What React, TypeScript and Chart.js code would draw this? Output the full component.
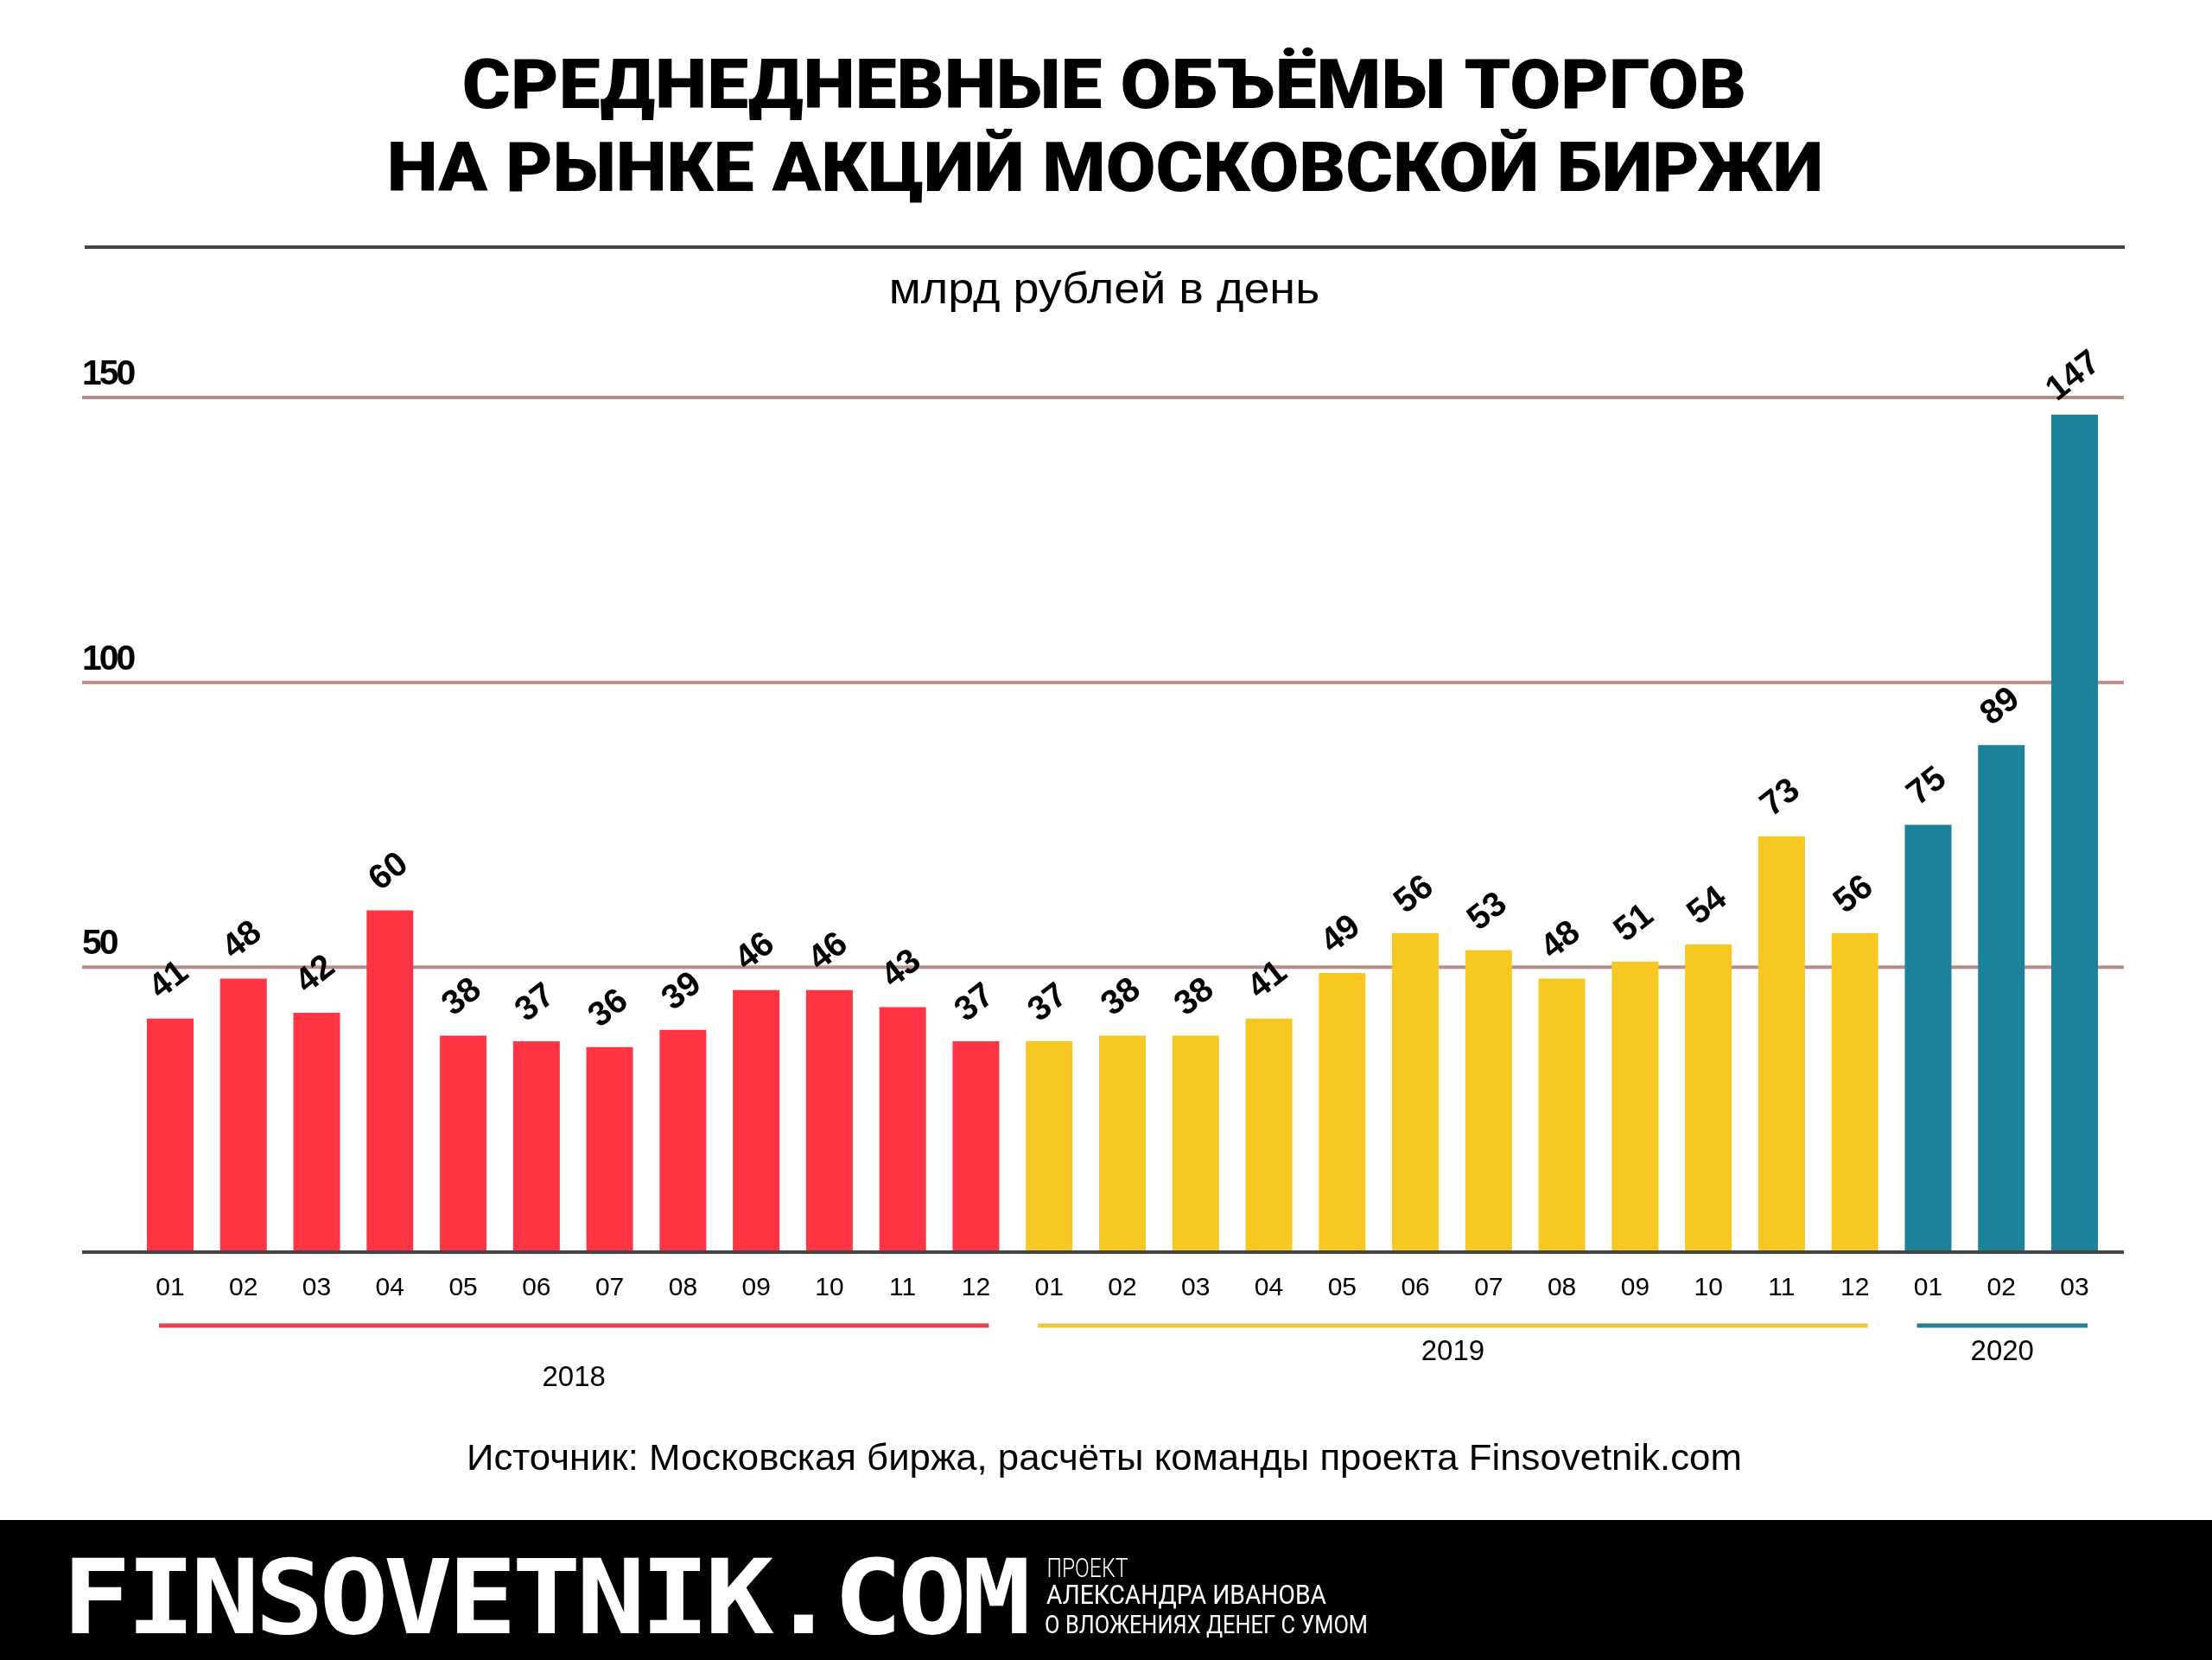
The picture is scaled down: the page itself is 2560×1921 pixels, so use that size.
import { useEffect, useRef } from "react";
import { Chart, registerables } from "chart.js";

Chart.register(...registerables);

const months = [
	"01", "02", "03", "04", "05", "06", "07", "08", "09", "10", "11", "12",
	"01", "02", "03", "04", "05", "06", "07", "08", "09", "10", "11", "12",
	"01", "02", "03",
];
const volumes = [
	41, 48, 42, 60, 38, 37, 36, 39, 46, 46, 43, 37,
	37, 38, 38, 41, 49, 56, 53, 48, 51, 54, 73, 56,
	75, 89, 147,
];
const yearNames = ["2018", "2019", "2020"];
const yearMonthCounts = [12, 12, 3];
const yearBarColors = ["#FF3545", "#F8C822", "#1C8299"];
const yearLineColors = ["#E2434F", "#EDC83E", "#2B8097"];
const yearLabelY = [1595, 1565, 1565];

const titleLines = ["СРЕДНЕДНЕВНЫЕ ОБЪЁМЫ ТОРГОВ", "НА РЫНКЕ АКЦИЙ МОСКОВСКОЙ БИРЖИ"];
const unitText = "млрд рублей в день";
const sourceText = "Источник: Московская биржа, расчёты команды проекта Finsovetnik.com";
const brandText = "FINSOVETNIK.COM";
const brandLines = ["ПРОЕКТ", "АЛЕКСАНДРА ИВАНОВА", "О ВЛОЖЕНИЯХ ДЕНЕГ С УМОМ"];

const SANS = '"Liberation Sans", Arial, sans-serif';
const LEFT = 95;
const RIGHT = 2458;

// squeeze or stretch a string so its ink runs from x0 to x1
function fitText(ctx: CanvasRenderingContext2D, text: string, x0: number, x1: number, baseline: number, font: string, spacing = "0px") {
	ctx.save();
	ctx.font = font;
	ctx.letterSpacing = spacing;
	ctx.textAlign = "left";
	ctx.textBaseline = "alphabetic";
	const m = ctx.measureText(text);
	const ink = m.actualBoundingBoxLeft + m.actualBoundingBoxRight;
	const sx = (x1 - x0) / ink;
	ctx.translate(x0 + m.actualBoundingBoxLeft * sx, baseline);
	ctx.scale(sx, 1);
	ctx.fillText(text, 0, 0);
	ctx.restore();
}

function barColors() {
	const out: string[] = [];
	yearMonthCounts.forEach((n, y) => {
		for (let i = 0; i < n; i++) out.push(yearBarColors[y]);
	});
	return out;
}

const decorPlugin = {
	id: "decor",
	beforeDatasetsDraw(chart: any) {
		const { ctx, scales } = chart;
		ctx.save();
		ctx.strokeStyle = "#BA8C8A";
		ctx.lineWidth = 4;
		ctx.fillStyle = "#000";
		ctx.font = `bold 41px ${SANS}`;
		ctx.letterSpacing = "-3px";
		ctx.textAlign = "left";
		ctx.textBaseline = "alphabetic";
		scales.y.ticks.forEach((t: any) => {
			if (t.value === 0) return;
			const y = scales.y.getPixelForValue(t.value);
			ctx.beginPath();
			ctx.moveTo(LEFT, y);
			ctx.lineTo(RIGHT, y);
			ctx.stroke();
			ctx.fillText(String(t.value), LEFT, y - 15);
		});
		ctx.restore();
	},
	afterDatasetsDraw(chart: any) {
		const { ctx, scales } = chart;
		const x = scales.x;
		const y = scales.y;

		ctx.save();
		// zero line
		ctx.strokeStyle = "#444444";
		ctx.lineWidth = 4;
		ctx.beginPath();
		ctx.moveTo(LEFT, y.getPixelForValue(0));
		ctx.lineTo(RIGHT, y.getPixelForValue(0));
		ctx.stroke();

		// value labels, tilted
		ctx.fillStyle = "#000";
		ctx.font = `bold 40px ${SANS}`;
		ctx.textAlign = "center";
		ctx.textBaseline = "middle";
		chart.getDatasetMeta(0).data.forEach((bar: any, i: number) => {
			ctx.save();
			ctx.translate(bar.x - 1, bar.y - 44);
			ctx.rotate((-38 * Math.PI) / 180);
			ctx.fillText(String(volumes[i]), 0, 0);
			ctx.restore();
		});

		// year brackets under the month ticks
		let first = 0;
		yearNames.forEach((name, i) => {
			const last = first + yearMonthCounts[i] - 1;
			const x0 = x.getPixelForValue(first) - 13;
			const x1 = x.getPixelForValue(last) + 15;
			ctx.strokeStyle = yearLineColors[i];
			ctx.lineWidth = 5;
			ctx.beginPath();
			ctx.moveTo(x0, 1534);
			ctx.lineTo(x1, 1534);
			ctx.stroke();
			ctx.fillStyle = "#000";
			ctx.font = `33px ${SANS}`;
			ctx.textAlign = "center";
			ctx.textBaseline = "middle";
			ctx.fillText(name, (x0 + x1) / 2, yearLabelY[i]);
			first = last + 1;
		});

		// header
		ctx.fillStyle = "#000";
		fitText(ctx, titleLines[0], 537, 2018, 124.5, `900 79px Roboto, ${SANS}`);
		fitText(ctx, titleLines[1], 452, 2106, 220.5, `900 79px Roboto, ${SANS}`);
		ctx.strokeStyle = "#444444";
		ctx.lineWidth = 4;
		ctx.beginPath();
		ctx.moveTo(98, 286);
		ctx.lineTo(2459, 286);
		ctx.stroke();
		fitText(ctx, unitText, 1032, 1525, 351, `50px ${SANS}`);
		fitText(ctx, sourceText, 543, 2013, 1701, `43px ${SANS}`);

		// footer band
		ctx.fillStyle = "#000";
		ctx.fillRect(0, 1759, 2560, 162);
		ctx.fillStyle = "#FFF";
		fitText(ctx, brandText, 83, 1188, 1890, 'bold 119px "DejaVu Sans Mono"', "-5px");
		fitText(ctx, brandLines[0], 1213, 1305, 1825, "300 31px Roboto");
		fitText(ctx, brandLines[1], 1211, 1535, 1856, "400 32px Roboto");
		fitText(ctx, brandLines[2], 1210, 1581, 1890, "400 29px Roboto");
		ctx.restore();
	},
};

export default function App() {
	const canvasRef = useRef<HTMLCanvasElement>(null);

	useEffect(() => {
		if (canvasRef.current == null) {
			return;
		}
		document.body.style.margin = "0";

		const chart = new Chart(canvasRef.current, {
			type: "bar",
			data: {
				labels: months,
				datasets: [
					{
						data: volumes,
						backgroundColor: barColors(),
						categoryPercentage: 1,
						barPercentage: 0.637,
					},
				],
			},
			options: {
				animation: false,
				responsive: false,
				devicePixelRatio: 1,
				layout: {
					padding: { left: 154.6, right: 116.6, top: 460, bottom: 0 },
				},
				plugins: {
					legend: { display: false },
					tooltip: { enabled: false },
				},
				scales: {
					x: {
						type: "category",
						offset: true,
						grid: { display: false, drawTicks: false },
						border: { display: false },
						ticks: {
							autoSkip: false,
							maxRotation: 0,
							padding: 24,
							color: "#000",
							font: { family: SANS, size: 30 },
						},
						afterFit: (scale: any) => {
							scale.height = 472;
						},
					},
					y: {
						display: false,
						min: 0,
						max: 150,
						ticks: { stepSize: 50 },
					},
				},
			},
			plugins: [decorPlugin],
		} as any);

		return () => {
			chart.destroy();
		};
	}, []);

	return (
		<div style={{ position: "absolute", left: 0, top: 0, width: 2560, height: 1921, background: "#fff" }}>
			<canvas ref={canvasRef} width={2560} height={1921} style={{ display: "block" }} />
		</div>
	);
}
